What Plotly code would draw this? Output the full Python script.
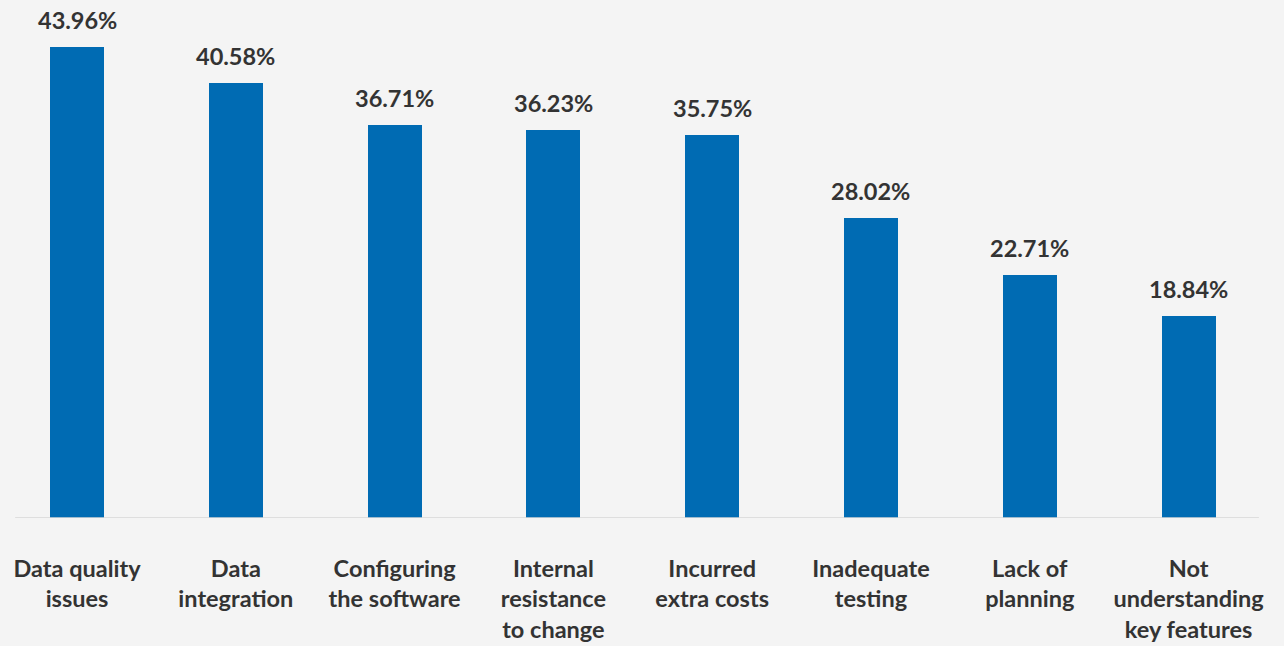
import plotly.graph_objects as go

categories = [
    "Data quality<br>issues",
    "Data<br>integration",
    "Configuring<br>the software",
    "Internal<br>resistance<br>to change",
    "Incurred<br>extra costs",
    "Inadequate<br>testing",
    "Lack of<br>planning",
    "Not<br>understanding<br>key features",
]
values = [43.96, 40.58, 36.71, 36.23, 35.75, 28.02, 22.71, 18.84]

BG = "#f4f4f4"
BAR = "#006bb3"
TXT = "#333333"
FONT = "Lato"
SIZE = 23.5

xs = list(range(len(values)))

fig = go.Figure(
    go.Bar(
        x=xs,
        y=values,
        width=0.34,
        marker=dict(color=BAR, line=dict(width=0)),
        hoverinfo="skip",
    )
)

# value labels above each bar
for x, v in zip(xs, values):
    fig.add_annotation(
        x=x, y=v, text=f"{v:.2f}%", showarrow=False,
        yanchor="bottom", yshift=11,
        font=dict(family=FONT, size=SIZE, color=TXT, weight="bold"),
    )

# baseline
fig.add_shape(
    type="line", xref="x", yref="y",
    x0=-0.39, x1=7.443, y0=0, y1=0,
    line=dict(color="rgba(215,215,215,0.75)", width=2),
    layer="above",
)

fig.update_layout(
    width=1284, height=646,
    margin=dict(l=0, r=0, t=0, b=128),
    paper_bgcolor=BG, plot_bgcolor=BG,
    showlegend=False,
    bargap=0,
    xaxis=dict(
        range=[-0.485, 7.601],
        tickvals=xs, ticktext=categories,
        showgrid=False, zeroline=False, showline=False, ticks="",
        tickfont=dict(family=FONT, size=SIZE, color=TXT, weight="bold"),
        ticklabelstandoff=34,
        fixedrange=True,
    ),
    yaxis=dict(
        range=[0, 48.35],
        showgrid=False, zeroline=False, showline=False,
        showticklabels=False, ticks="", fixedrange=True,
    ),
)

fig.write_html("out.html")
